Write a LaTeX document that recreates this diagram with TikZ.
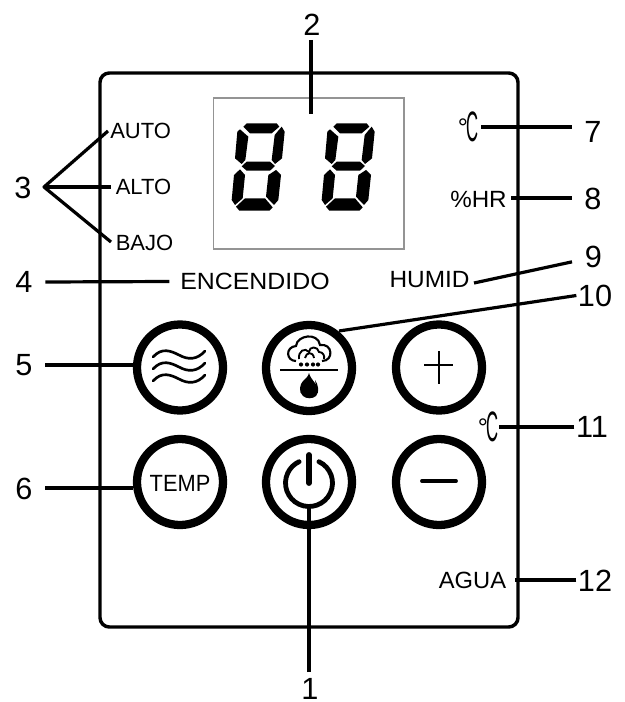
\documentclass[tikz,border=0pt]{standalone}
\usepackage{fontspec}
\usepackage{graphicx}
\setmainfont{Liberation Sans}
\newcommand{\wide}[2]{\scalebox{#1}[1]{#2}}
\newcommand{\thindeg}{\raisebox{4pt}{\fontsize{19}{20}\selectfont °}\kern-1.5pt\scalebox{.52}[1.33]{\fontsize{24}{26}\selectfont C}}
\tikzset{
  lead/.style={line width=2.4pt,black},
  num/.style={font=\fontsize{23}{26}\selectfont,inner xsep=9.5pt,inner ysep=3pt,text=black},
  numt/.style={font=\fontsize{23}{26}\selectfont,inner xsep=1pt,inner ysep=3pt,text=black},
  lab/.style={font=\fontsize{16.5}{18}\selectfont,inner sep=0pt,text=black},
  labb/.style={font=\fontsize{17.6}{19}\selectfont,inner sep=0pt,text=black},
  ring/.style={circle,draw=black,line width=6.2pt,minimum size=64.5pt,inner sep=0pt},
  icon/.style={line width=2pt,black,line cap=round},
  seg/.style={fill=black,draw=none}
}
\newcommand{\digitsev}[1]{%
 \begin{scope}[shift={(#1,80)},x=.25pt,y=-.25pt]
  \fill[seg] (130,140)--(140,130)--(230,130)--(238,140)--(215,160)--(150,160)--cycle;
  \fill[seg] (120,148)--(145,170)--(136,240)--(125,252)--(105,235)--(112,155)--cycle;
  \fill[seg] (245,140)--(254,155)--(246,235)--(225,252)--(215,240)--(224,165)--cycle;
  \fill[seg] (125,259)--(140,245)--(210,245)--(225,258)--(210,272)--(140,272)--cycle;
  \fill[seg] (120,268)--(135,285)--(128,355)--(105,375)--(95,360)--(102,285)--cycle;
  \fill[seg] (228,270)--(243,285)--(235,360)--(222,375)--(198,350)--(205,285)--cycle;
  \fill[seg] (135,355)--(195,355)--(218,382)--(208,392)--(118,392)--(108,380)--cycle;
 \end{scope}}
\begin{document}
\begin{tikzpicture}[x=.75pt,y=-.75pt]
\useasboundingbox (0,0) rectangle (624,702);
% panel and display
\node[draw=black,line width=2.6pt,rounded corners=7pt,minimum width=313.5pt,minimum height=415.5pt,inner sep=0pt] (panel) at (309,350) {};
\node[draw=black!42,line width=.8pt,minimum width=143.2pt,minimum height=113.2pt,inner sep=0pt] (lcd) at (308.5,173.5) {};
\digitsev{200}
\digitsev{290}
% buttons
\node[ring] (b5) at (180,367.5) {};
\node[ring] (b10) at (309,368) {};
\node[ring] (bplus) at (439,367.5) {};
\node[ring] (b6) at (180,482) {};
\node[ring] (b1) at (309,482) {};
\node[ring] (bminus) at (439,482) {};
% button contents
\foreach \d in {0,12,24}{
 \draw[icon] (153,357+\d) .. controls (162,347+\d) and (171,351+\d) .. (179,355+\d) .. controls (188,360+\d) and (197,360+\d) .. (205,351+\d);
}
\node[font=\fontsize{17.6}{20}\selectfont,inner sep=0pt] (temp) at (180,483.5) {\wide{.93}{TEMP}};
\draw[line width=1.9pt] (439,351) -- (439,384) (424,365) -- (453,365);
\draw[line width=2.9pt,line cap=round] (422,481) -- (456,481);
% power
\draw[line width=3.6pt,line cap=round] (309,483) ++(-65:23.5) arc[start angle=-65,end angle=245,radius=23.5];
\draw[line width=4.4pt,line cap=round] (309,455) -- (309,483);
% steam icon
\draw[line width=1.6pt] (296,361) .. controls (286,361) and (285,347) .. (296,346) .. controls (297,335) and (318,332) .. (320,345) .. controls (333,343) and (334,361) .. (322,361);
\draw[line width=1.4pt] (299,359) .. controls (298,351) and (305,347) .. (309,352) .. controls (309,346) and (318,346) .. (319,352) .. controls (323,352) and (325,356) .. (324,359);
\draw[line width=1.4pt] (305,358) .. controls (306,352) and (313,351) .. (314,358);
\foreach \x in {301,307,313,318}{\fill (\x,364.5) circle (2.1);}
\draw[line width=1.5pt] (280,369.5) -- (338,369.5);
\fill (309,373) .. controls (311,380) and (315,381) .. (316,386) .. controls (316,384) and (315,382) .. (315,380) .. controls (318,384) and (320,392) .. (316,396) .. controls (313,399) and (306,399) .. (303,396) .. controls (298,392) and (300,384) .. (303,381) .. controls (306,378) and (308,377) .. (309,373) -- cycle;
% labels
\node[lab,anchor=west] (auto) at (110,131) {AUTO};
\node[lab,anchor=west] (alto) at (115.5,187) {ALTO};
\node[lab,anchor=west] (bajo) at (115.5,243) {BAJO};
\node[labb,inner xsep=8pt] (enc) at (255,281.5) {\wide{1.06}{ENCENDIDO}};
\node[labb] (hr) at (478.5,199.5) {\wide{1.03}{\%HR}};
\node[labb] (humid) at (429.5,279.5) {\wide{1.04}{HUMID}};
\node[labb] (agua) at (472.5,580) {\wide{1.01}{AGUA}};
\node[inner sep=0pt] (deg7) at (468,127) {\thindeg};
\node[inner sep=0pt] (deg11) at (488,427) {\thindeg};
% numbers
\node[num,inner ysep=0pt] (n1) at (310,689) {1};
\node[num] (n2) at (312,25) {2};
\node[num] (n3) at (23,187.5) {3};
\node[num] (n4) at (24,282) {4};
\node[num] (n5) at (24,365) {5};
\node[num] (n6) at (24,489) {6};
\node[num] (n7) at (593,132) {7};
\node[num] (n8) at (593,199) {8};
\node[num] (n9) at (593.5,256.5) {9};
\node[numt] (n10) at (595,295.5) {10};
\node[numt] (n11) at (592,427) {11};
\node[numt] (n12) at (595,581) {12};
% free ends
\coordinate (e2) at (311,114);
\coordinate (s1) at (309,507);
\coordinate (s3) at (44,187);
\coordinate (e3a) at (108,131);
\coordinate (e3b) at (111,187);
\coordinate (e3c) at (111,242);
\coordinate (s7) at (481,127);
\coordinate (s8) at (511,198);
\coordinate (s9) at (474,283);
\coordinate (s10) at (339,331);
\coordinate (s11) at (499,427);
\coordinate (s12) at (515,580);
% connectors
\draw[lead] ([yshift=4.5pt]n1.north -| s1) -- (s1);
\draw[lead] (n2.south -| e2) -- (e2);
\draw[lead,line join=round] (e3a) -- (s3) -- (e3c);
\draw[lead] (s3) -- (e3b);
\draw[lead] (n4.east) -- (enc.west);
\draw[lead] (n5.east) -- (n5.east -| b5.west);
\draw[lead] ([yshift=.75pt]n6.east) -- ([yshift=.75pt]n6.east -| b6.west);
\draw[lead] ([yshift=3.75pt]n7.west) -- (s7);
\draw[lead] ([yshift=.75pt]n8.west) -- (s8);
\draw[lead] ([yshift=-4pt]n9.west) -- (s9);
\draw[lead] (n10.west) -- (s10);
\draw[lead] (n11.west) -- (s11);
\draw[lead] ([yshift=.75pt]n12.west) -- (s12);
\end{tikzpicture}
\end{document}
